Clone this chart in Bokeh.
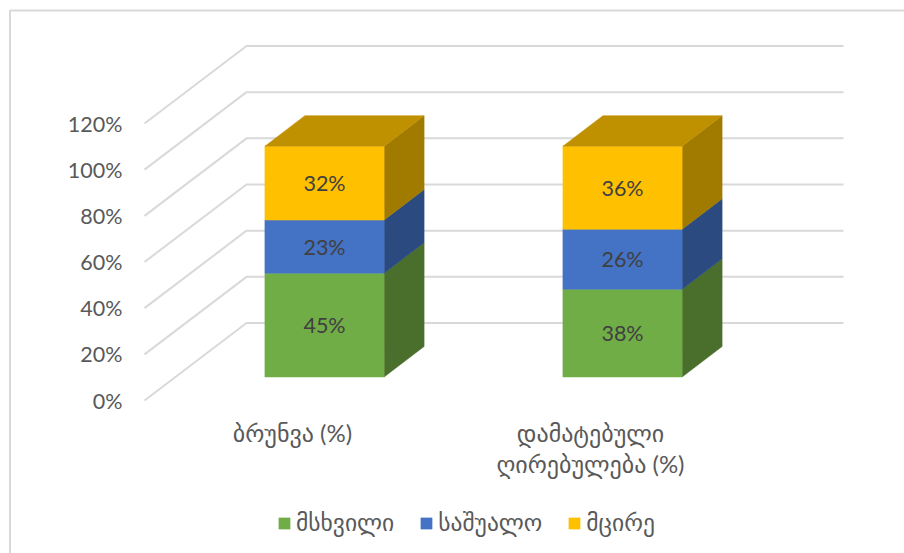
from bokeh.plotting import figure
from bokeh.embed import file_html
from bokeh.resources import INLINE
from bokeh.models import (LinearAxis, FixedTicker, PrintfTickFormatter, Legend,
                          LegendItem, Range1d, ColumnDataSource)
from bokeh.core.properties import value

categories = ["ბრუნვა (%)", "დამატებული\nღირებულება (%)"]
large = [45, 38]
medium = [23, 26]
small = [32, 36]
series_names = ["მსხვილი", "საშუალო", "მცირე"]
y_ticks = [0, 20, 40, 60, 80, 100, 120]

FONT = "Lato, 'DejaVu Sans', sans-serif"
W, H = 904, 553
PAD = 0
X0_PX, X_STEP = 292.0, 298.0      # page px of category 0 label, px per category
Y0_PX, Y_STEP = 400.0, 277.0 / 120 # page px of 0 %, px per percent


def ux(px):
    return (px - X0_PX) / X_STEP


def uy(py):
    return (Y0_PX - py) / Y_STEP


p = figure(width=W, height=H, output_backend="svg", toolbar_location=None,
           x_axis_type=None, y_axis_type=None,
           x_range=Range1d(ux(PAD), ux(PAD + W)),
           y_range=Range1d(uy(PAD + H), uy(PAD)),
           min_border=0, min_border_left=0, min_border_right=0,
           min_border_top=0, min_border_bottom=0)
p.outline_line_color = None
p.grid.visible = False
p.background_fill_color = "white"
p.border_fill_color = "white"

GRID = "#D9D9D9"
# chart frame
p.line([ux(9.5), ux(9.5), ux(PAD + W)], [uy(PAD + H), uy(10), uy(10)],
       line_color=GRID, line_width=2)

# floor edges and back wall
depth_x = ux(246) - ux(144)
depth_y = uy(322.5) - uy(400)
wall_right = ux(843)
xs_grid = [[ux(144), ux(246), wall_right] for _ in y_ticks]
ys_grid = [[t, t + depth_y, t + depth_y] for t in y_ticks]
p.multi_line(xs_grid, ys_grid, line_color=GRID, line_width=2)

# bars
bar_w = 119.2 / X_STEP
bar_shift = (324 - X0_PX) / X_STEP
bar_base = uy(376.5)
dx = 40 / X_STEP
dy = 30.5 / Y_STEP

series = [large, medium, small]
face_colors = ["#70AD47", "#4472C4", "#FFC000"]
side_colors = ["#4A6E2B", "#2A4A80", "#A17A00"]
top_color = "#BF9000"
legend_items = []
bottom = [bar_base] * len(categories)
for vals, name, fc, sc in zip(series, series_names, face_colors, side_colors):
    top = [b + v for b, v in zip(bottom, vals)]
    lefts = [i + bar_shift - bar_w / 2 for i in range(len(categories))]
    rights = [l + bar_w for l in lefts]
    p.patches([[r, r + dx, r + dx, r] for r in rights],
              [[b, b + dy, t + dy, t] for b, t in zip(bottom, top)],
              fill_color=sc, line_color=sc, line_width=0.5)
    src = ColumnDataSource(dict(left=lefts, right=rights, bottom=bottom, top=top))
    r = p.quad(left="left", right="right", bottom="bottom", top="top", source=src,
               fill_color=fc, line_color=fc, line_width=0.5)
    legend_items.append(LegendItem(label=name, renderers=[r]))
    p.text([i + bar_shift for i in range(len(categories))],
           [(b + t) / 2 for b, t in zip(bottom, top)],
           text=[f"{v}%" for v in vals], text_font=value(FONT), text_font_size="21.5px",
           text_color="#404040", text_align="center", text_baseline="middle")
    bottom = top

lefts = [i + bar_shift - bar_w / 2 for i in range(len(categories))]
p.patches([[l, l + dx, l + bar_w + dx, l + bar_w] for l in lefts],
          [[t, t + dy, t + dy, t] for t in bottom],
          fill_color=top_color, line_color=top_color, line_width=0.5)

# axes drawn inside the frame
yaxis = LinearAxis(ticker=FixedTicker(ticks=y_ticks),
                   formatter=PrintfTickFormatter(format="%d%%"),
                   fixed_location=ux(130))
yaxis.axis_line_color = None
yaxis.major_tick_line_color = None
yaxis.minor_tick_line_color = None
yaxis.major_tick_in = 0
yaxis.major_tick_out = 0
yaxis.major_label_standoff = 8
yaxis.major_label_text_font = FONT
yaxis.major_label_text_font_size = "21.5px"
yaxis.major_label_text_color = "#595959"
p.add_layout(yaxis, "left")

xaxis = LinearAxis(ticker=FixedTicker(ticks=list(range(len(categories)))),
                   major_label_overrides={i: c for i, c in enumerate(categories)},
                   fixed_location=0)
xaxis.axis_line_color = None
xaxis.major_tick_line_color = None
xaxis.minor_tick_line_color = None
xaxis.major_tick_in = 0
xaxis.major_tick_out = 0
xaxis.major_label_standoff = 17
xaxis.major_label_text_font = FONT
xaxis.major_label_text_font_size = "24px"
xaxis.major_label_text_line_height = 1.1
xaxis.major_label_text_color = "#595959"
p.add_layout(xaxis, "below")

legend = Legend(items=legend_items, orientation="horizontal",
                location=(277, 16), padding=0, margin=0, spacing=25,
                glyph_width=14, glyph_height=14, label_standoff=5,
                label_text_font=FONT, label_text_font_size="23.5px",
                label_text_color="#595959", border_line_color=None,
                background_fill_alpha=0)
p.add_layout(legend)

open("out.html", "w").write(file_html(p, INLINE))
